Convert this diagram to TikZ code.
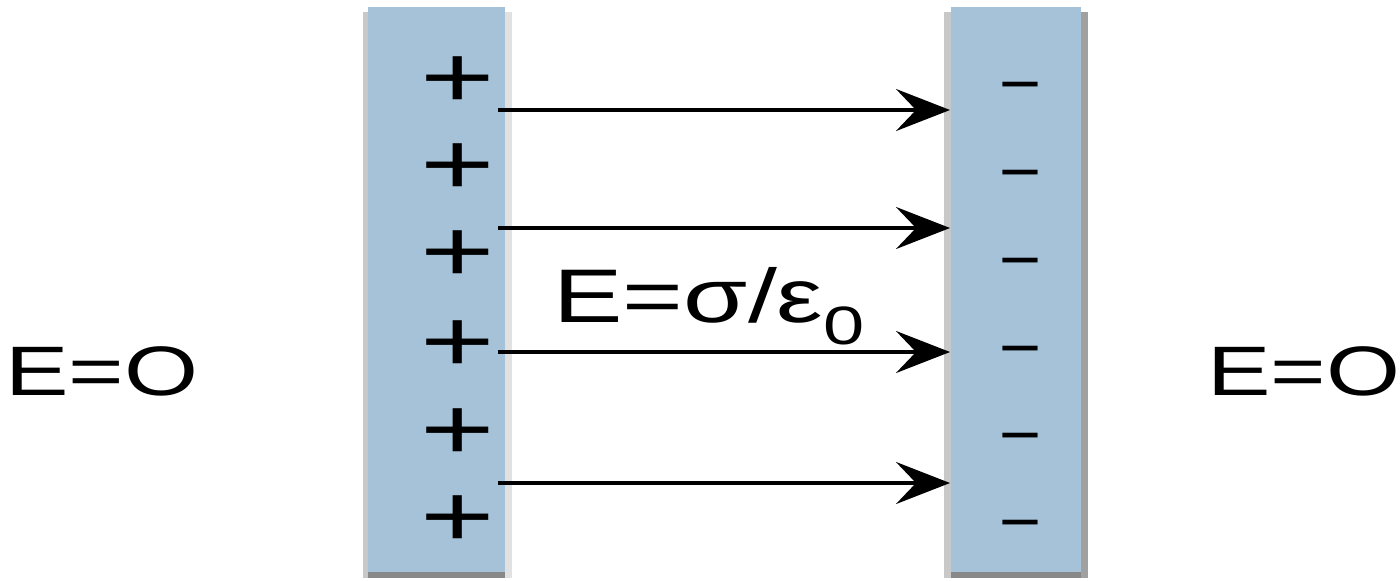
\documentclass[tikz,border=0pt]{standalone}
\usepackage{fontspec}
\setmainfont{Liberation Sans}
\usetikzlibrary{arrows.meta}

\definecolor{platefill}{RGB}{165,194,216}
\definecolor{edgelight}{RGB}{200,200,200}
\definecolor{edgepale}{RGB}{225,225,225}
\definecolor{edgedark}{RGB}{160,160,160}
\definecolor{edgebottom}{RGB}{136,136,136}

\begin{document}
\begin{tikzpicture}[x=0.5pt, y=-0.5pt,
  field/.style={line width=1.9pt, -{Stealth[length=27pt, width=21pt, inset=10pt]}},
  plus/.style={inner sep=0pt, anchor=base, font=\fontsize{44}{44}\selectfont},
  minus/.style={inner sep=0pt, anchor=base, font=\fontsize{30}{30}\selectfont},
  fieldlabel/.style={inner sep=0pt, anchor=base}]
  \useasboundingbox (0,0) rectangle (1400,580);

  % Positive plate
  \fill[edgelight] (363,12) rectangle (368,578);
  \fill[edgepale] (505,12) rectangle (512,578);
  \fill[edgebottom] (368,572) rectangle (505,578);
  \fill[platefill] (368,7) rectangle (505,572);

  % Negative plate
  \fill[edgelight] (944,12) rectangle (951,578);
  \fill[edgedark] (1081,12) rectangle (1088,578);
  \fill[edgebottom] (951,572) rectangle (1081,578);
  \fill[platefill] (951,7) rectangle (1081,572);

  % Charges
  \foreach \y [count=\i] in {76,163,250,340,428,515}
    \node[plus] (Plus\i) at (458,\y+31) {\scalebox{1.45}[1]{+}};
  \foreach \y [count=\i] in {84,172,260,348,435,522}
    \node[minus] (Minus\i) at (1020,\y+16) {\scalebox{2.4}[1]{-}};

  % Field lines between the plates
  \foreach \y [count=\i] in {110,228,352,483} {
    \coordinate (From\i) at (498,\y);
    \coordinate (To\i) at (950,\y);
    \draw[field] (From\i) -- (To\i);
  }

  % Labels
  \node[fieldlabel, font=\fontsize{38}{38}\selectfont] (Inside) at (709,322)
    {\scalebox{1.37}[1]{E=σ/ε\raisebox{-0.3em}{\fontsize{27}{27}\selectfont 0}}};
  \node[fieldlabel, font=\fontsize{35}{35}\selectfont] (OutLeft) at (102,395)
    {\scalebox{1.36}[1]{E=O}};
  \node[fieldlabel, font=\fontsize{35}{35}\selectfont] (OutRight) at (1304,395)
    {\scalebox{1.36}[1]{E=O}};
\end{tikzpicture}
\end{document}
